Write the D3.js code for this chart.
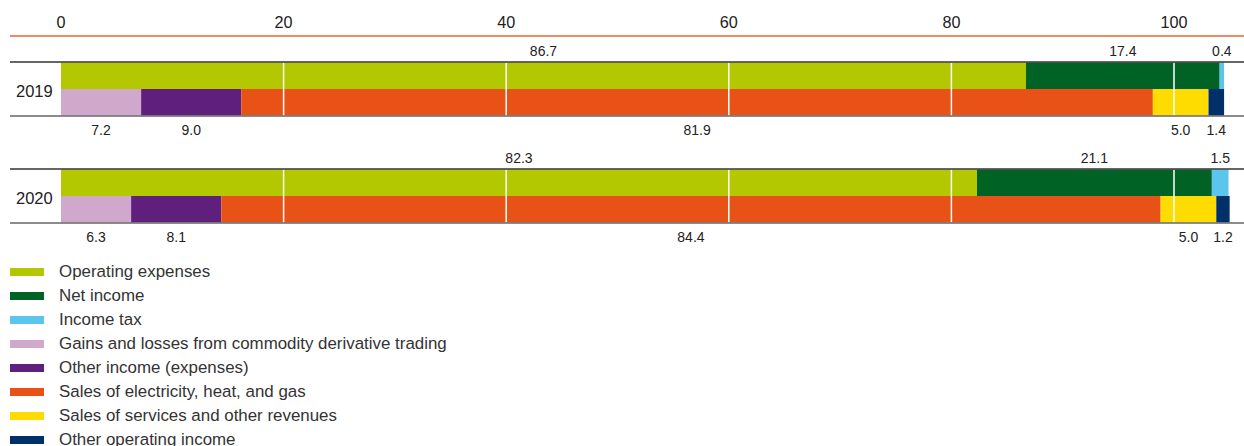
<!DOCTYPE html>
<html><head><meta charset="utf-8">
<script src="https://cdn.jsdelivr.net/npm/d3@7"></script>
<style>
body{margin:0;background:#fff;}
text{font-family:"Liberation Sans",Arial,sans-serif;}
</style></head>
<body><svg id="c" width="1244" height="446"></svg>
<script>
const years = ["2019", "2020"];
const ticks = [0, 20, 40, 60, 80, 100];
const topSeries = ["Operating expenses", "Net income", "Income tax"];
const bottomSeries = ["Gains and losses from commodity derivative trading", "Other income (expenses)", "Sales of electricity, heat, and gas", "Sales of services and other revenues", "Other operating income"];
const operatingExpenses = [86.7, 82.3];
const netIncome = [17.4, 21.1];
const incomeTax = [0.4, 1.5];
const gainsLosses = [7.2, 6.3];
const otherIncome = [9.0, 8.1];
const salesElectricity = [81.9, 84.4];
const salesServices = [5.0, 5.0];
const otherOperating = [1.4, 1.2];
const legendOrder = ["Operating expenses", "Net income", "Income tax", "Gains and losses from commodity derivative trading", "Other income (expenses)", "Sales of electricity, heat, and gas", "Sales of services and other revenues", "Other operating income"];
const colors = {
  "Operating expenses": "#b3c800",
  "Net income": "#006225",
  "Income tax": "#5bc5ee",
  "Gains and losses from commodity derivative trading": "#cfa8cc",
  "Other income (expenses)": "#5f1f7d",
  "Sales of electricity, heat, and gas": "#e85216",
  "Sales of services and other revenues": "#ffdc00",
  "Other operating income": "#00306a"
};
const topVals = [operatingExpenses, netIncome, incomeTax];
const bottomVals = [gainsLosses, otherIncome, salesElectricity, salesServices, otherOperating];

const svg = d3.select("#c");
const x = d3.scaleLinear().domain([0, 100]).range([61, 1174]);
const rowY = d3.scalePoint().domain(years).range([62.5, 169.5]);
const barH = 26.5;

// axis
const ax = svg.append("g").attr("transform", "translate(0,36)");
ax.append("line").attr("x1", 10).attr("x2", 1244).attr("y1", 0).attr("y2", 0)
  .attr("stroke", "#ec8a66").attr("stroke-width", 2);
ax.selectAll("text.t").data(ticks).join("text")
  .attr("x", d => x(d)).attr("y", -8.5).attr("text-anchor", "middle")
  .attr("font-size", 16.2).attr("fill", "#222").text(d => d3.format("d")(d));

function drawStack(yi, year, names, vals, yTop, labelAbove) {
  const values = vals.map(v => v[yi]);
  const cum = d3.cumsum(values);
  const segs = names.map((n, i) => ({ name: n, v: values[i], x0: i ? cum[i - 1] : 0, x1: cum[i] }));
  const g = svg.append("g");
  g.selectAll("rect").data(segs).join("rect")
    .attr("x", d => x(d.x0)).attr("width", d => x(d.x1) - x(d.x0))
    .attr("y", yTop).attr("height", barH)
    .attr("fill", d => colors[d.name]);
  g.selectAll("text").data(segs).join("text")
    .attr("x", d => (x(d.x0) + x(d.x1)) / 2)
    .attr("y", labelAbove ? yTop - 7 : yTop + barH + 19.5)
    .attr("text-anchor", "middle").attr("font-size", 14).attr("fill", "#222")
    .text(d => d3.format(".1f")(d.v));
}

years.forEach((yr, i) => {
  const y0 = rowY(yr);
  drawStack(i, yr, topSeries, topVals, y0, true);
  drawStack(i, yr, bottomSeries, bottomVals, y0 + barH, false);
  // grid lines over bars
  svg.append("g").selectAll("line").data(ticks.filter(t => t > 0)).join("line")
    .attr("x1", d => x(d)).attr("x2", d => x(d))
    .attr("y1", y0).attr("y2", y0 + 2 * barH)
    .attr("stroke", "#fff").attr("stroke-width", 1.5);
  svg.append("line").attr("x1", 10).attr("x2", 1244).attr("y1", y0 - 0.5).attr("y2", y0 - 0.5)
    .attr("stroke", "#333").attr("stroke-width", 1.3);
  svg.append("line").attr("x1", 10).attr("x2", 1244).attr("y1", y0 + 2 * barH + 0.5).attr("y2", y0 + 2 * barH + 0.5)
    .attr("stroke", "#666").attr("stroke-width", 1.5);
  svg.append("text").attr("x", 16).attr("y", y0 + 34)
    .attr("font-size", 16.5).attr("fill", "#222").text(yr);
});

// legend
const lg = svg.append("g").selectAll("g").data(legendOrder).join("g")
  .attr("transform", (d, i) => `translate(0,${272 + i * 24})`);
lg.append("rect").attr("x", 10).attr("y", -4).attr("width", 34).attr("height", 8)
  .attr("fill", d => colors[d]);
lg.append("text").attr("x", 59).attr("y", 5).attr("font-size", 16.9).attr("fill", "#333").text(d => d);
</script></body></html>
